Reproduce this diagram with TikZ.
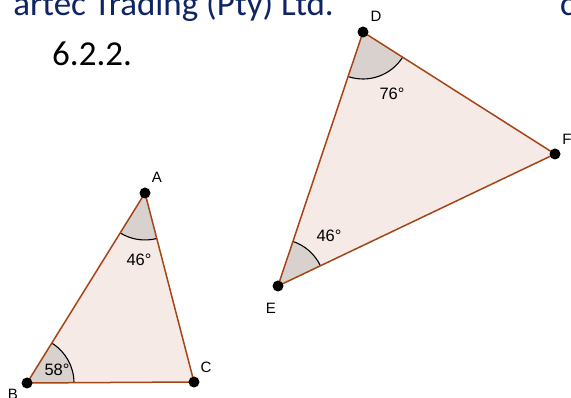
\documentclass[tikz,border=0pt]{standalone}
\usepackage{fontspec}
\setmainfont{Carlito}
\newfontfamily\geofont{Liberation Sans}
\usetikzlibrary{angles}

\definecolor{edgebrown}{RGB}{165,68,22}
\definecolor{trifill}{RGB}{245,234,229}
\definecolor{anglefill}{RGB}{217,209,205}
\definecolor{headblue}{RGB}{14,36,100}

\begin{document}
\begin{tikzpicture}[x=1pt, y=1pt,
    dot/.style={circle, fill=black, inner sep=0pt, minimum size=11pt},
    vlabel/.style={font=\geofont\fontsize{15}{15}\selectfont, inner sep=0pt},
    alabel/.style={font=\geofont\fontsize{16.5}{16.5}\selectfont, inner sep=0pt},
    heading/.style={font=\fontsize{35}{35}\selectfont, inner sep=0pt},
    edge/.style={draw=edgebrown, line width=1.5pt},
    sector/.style={draw=black, line width=1.1pt, fill=anglefill, angle radius=47pt},
]
\useasboundingbox (0,0) rectangle (571,-398);

\node[heading, text=headblue, anchor=base east] (header) at (334,-15.5) {artec Trading (Pty) Ltd.};
\node[heading, text=headblue, anchor=base west] (headtail) at (560,-15.5) {c};
\node[heading, anchor=base west] (qnum) at (52,-66) {6.2.2.};

% corners of the two triangles
\coordinate (A) at (145,-193);
\coordinate (B) at (27,-383);
\coordinate (C) at (194,-382);
\coordinate (D) at (363,-32);
\coordinate (E) at (278,-286);
\coordinate (F) at (555,-154);

\fill[trifill] (A) -- (B) -- (C) -- cycle;
\fill[trifill] (D) -- (E) -- (F) -- cycle;

\pic[sector] {angle = B--A--C};
\pic[sector] {angle = C--B--A};
\pic[sector] {angle = E--D--F};
\pic[sector] {angle = F--E--D};

\draw[edge] (A) -- (B);
\draw[edge] (B) -- (C);
\draw[edge] (C) -- (A);
\draw[edge] (D) -- (E);
\draw[edge] (E) -- (F);
\draw[edge] (F) -- (D);

\node[dot] (Adot) at (A) {};
\node[dot] (Bdot) at (B) {};
\node[dot] (Cdot) at (C) {};
\node[dot] (Ddot) at (D) {};
\node[dot] (Edot) at (E) {};
\node[dot] (Fdot) at (F) {};

\node[vlabel] (labA) at (157,-177) {A};
\node[vlabel] (labB) at (13,-394) {B};
\node[vlabel] (labC) at (206,-367) {C};
\node[vlabel] (labD) at (376,-16) {D};
\node[vlabel] (labE) at (271,-308) {E};
\node[vlabel] (labF) at (567,-139) {F};

\node[alabel] (angA) at (139,-260) {46°};
\node[alabel] (angB) at (57,-370) {58°};
\node[alabel] (angD) at (392,-94) {76°};
\node[alabel] (angE) at (329,-236) {46°};
\end{tikzpicture}
\end{document}
